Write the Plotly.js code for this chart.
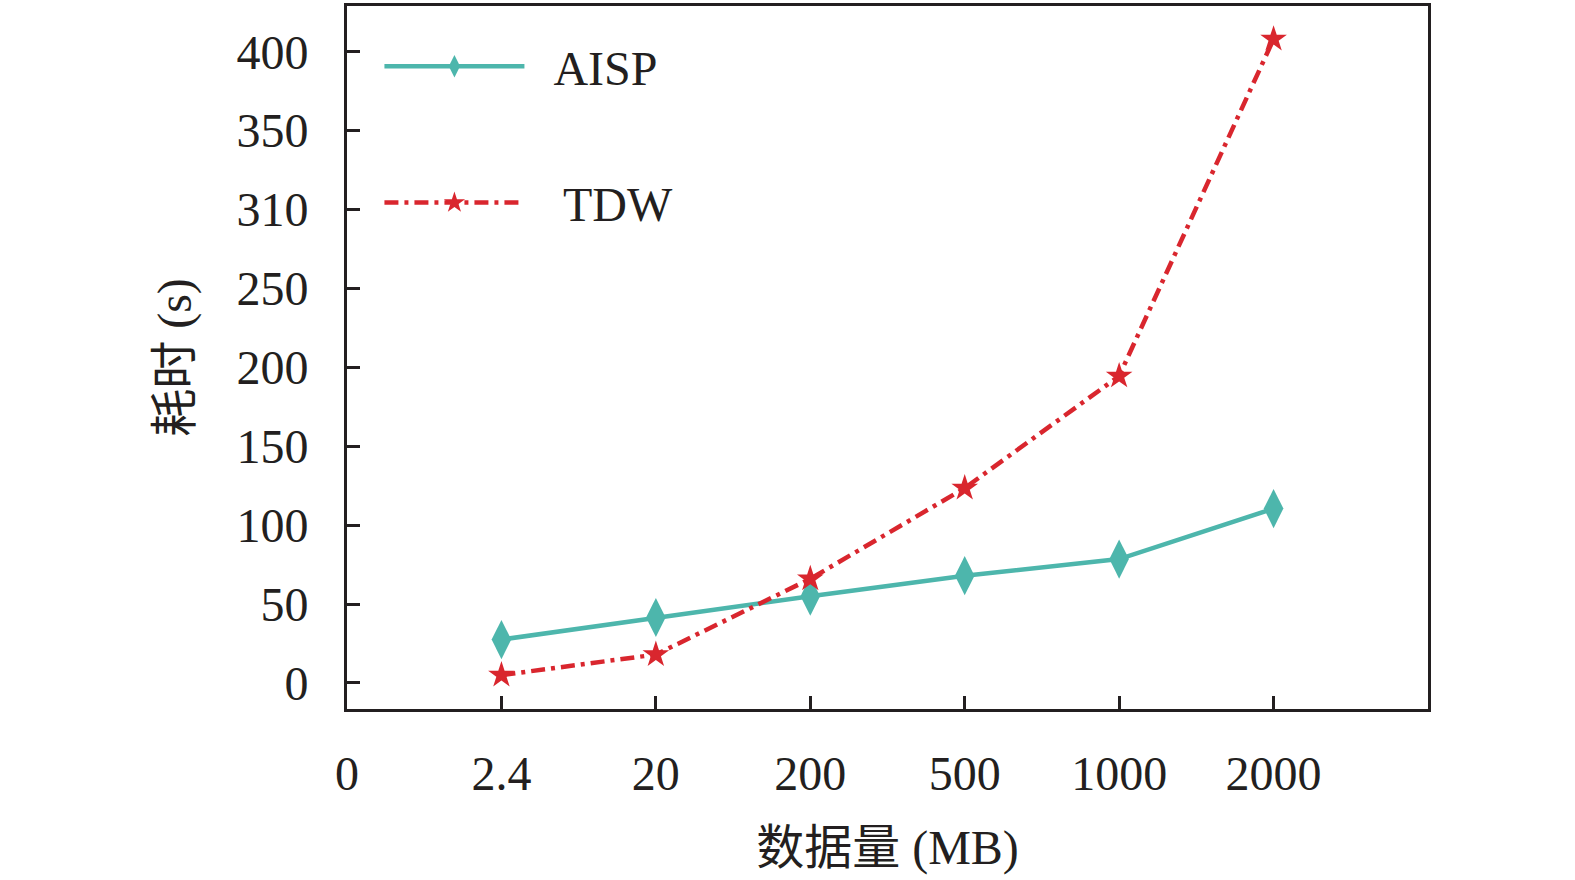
<!DOCTYPE html>
<html>
<head>
<meta charset="utf-8">
<script src="https://cdn.plot.ly/plotly-3.0.1.min.js"></script>
<style>body{margin:0;background:#fff;} #chart{width:1575px;height:880px;}</style>
</head>
<body>
<div id="chart"></div>
<script>
// data sizes (MB) shown as evenly spaced ticks
let sizeLabels = ["0", "2.4", "20", "200", "500", "1000", "2000"];
let aispTime = [27.5, 41.5, 55, 68, 78.5, 110.5];
let tdwTime = [5, 18, 66, 123.5, 194.5, 408];
let yTickVals = [0, 50, 100, 150, 200, 250, 300, 350, 400];
let yTickText = ["0", "50", "100", "150", "200", "250", "310", "350", "400"];

let xPos = sizeLabels.slice(1).map((item, i) => {
    return i + 1
});

let fontFam = "Liberation Serif, Times New Roman, Noto Sans CJK SC, serif";

let trace1 = {
    x: xPos,
    y: aispTime,
    name: "\u2002AISP",
    mode: "lines+markers",
    line: { color: "#4db6ac", width: 4.5 },
    marker: { symbol: "diamond-tall", size: 28, color: "#4db6ac" },
    legendgroup: "a"
};

let trace2 = {
    x: xPos,
    y: tdwTime,
    name: "\u2002\u2009TDW",
    mode: "lines+markers",
    line: { color: "#d9262e", width: 4.5, dash: "14px,6px,4px,6px" },
    marker: { symbol: "star", size: 20, color: "#d9262e" },
    legendgroup: "b"
};

Plotly.newPlot("chart", [trace1, trace2], {
    width: 1575,
    height: 880,
    margin: { l: 347, r: 147, t: 6, b: 171 },
    paper_bgcolor: "#fff",
    plot_bgcolor: "#fff",
    font: { family: fontFam, size: 46, color: "#231f20" },
    showlegend: true,
    legend: {
        x: 0.03, y: 0.968, xanchor: "left", yanchor: "top",
        bgcolor: "rgba(0,0,0,0)",
        traceorder: "grouped",
        tracegroupgap: 71,
        itemwidth: 140,
        font: { family: fontFam, size: 48, color: "#231f20" }
    },
    xaxis: {
        range: [0, 7],
        tickvals: sizeLabels.map((item, i) => i),
        ticktext: sizeLabels,
        ticks: "inside",
        ticklen: 13,
        tickwidth: 3,
        tickcolor: "#231f20",
        ticklabelstandoff: 20,
        showgrid: false,
        zeroline: false,
        showline: true,
        linewidth: 3,
        linecolor: "#231f20",
        mirror: true,
        tickfont: { size: 48 },
        title: { text: "数据量 (MB)", font: { size: 48 }, standoff: 32 }
    },
    yaxis: {
        range: [-16.5, 429],
        tickvals: yTickVals,
        ticktext: yTickText,
        ticks: "inside",
        ticklen: 13,
        tickwidth: 3,
        tickcolor: "#231f20",
        ticklabelstandoff: 26,
        showgrid: false,
        zeroline: false,
        showline: true,
        linewidth: 3,
        linecolor: "#231f20",
        mirror: true,
        tickfont: { size: 48 },
        title: { text: "耗时 (s)", font: { size: 48 }, standoff: 30 }
    }
}, { staticPlot: true });
</script>
</body>
</html>
